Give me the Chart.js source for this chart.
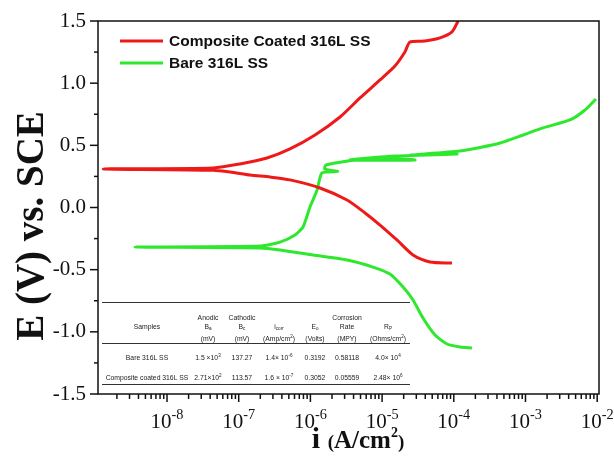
<!DOCTYPE html>
<html>
<head>
<meta charset="utf-8">
<script src="https://cdn.jsdelivr.net/npm/chart.js@4.4.0/dist/chart.umd.min.js"></script>
<style>
html, body { margin: 0; padding: 0; background: #fff; }
#wrap { width: 614px; height: 458px; }
</style>
</head>
<body>
<div id="wrap"><canvas id="tafel" width="614" height="458"></canvas></div>
<script>
// 极化曲线数据 (i: A/cm2, E: V vs SCE)
const coatedI = [9.44e-5, 4.66e-5, 2.70e-5, 1.61e-5, 9.35e-6, 5.78e-6, 3.24e-6, 1.36e-6, 5.19e-7, 2.74e-7, 1.44e-7, 7.57e-8, 4.39e-8,
    1.29e-9,
    4.39e-8, 1.04e-7, 2.48e-7, 5.19e-7, 1.16e-6, 2.59e-6, 4.92e-6, 9.35e-6, 1.51e-5, 2.08e-5, 2.45e-5, 3.96e-5, 6.43e-5, 9.44e-5, 1.15e-4];
const coatedE = [-0.447, -0.438, -0.382, -0.261, -0.141, -0.044, 0.060, 0.157, 0.222, 0.245, 0.261, 0.286, 0.300,
    0.310,
    0.318, 0.350, 0.398, 0.471, 0.583, 0.728, 0.881, 1.026, 1.138, 1.251, 1.331, 1.339, 1.364, 1.412, 1.500];

const bareI = [1.79e-4, 1.22e-4, 8.04e-5, 5.47e-5, 3.72e-5, 2.70e-5, 1.96e-5, 1.29e-5, 7.46e-6, 3.24e-6, 1.09e-6, 3.77e-7, 1.98e-7,
    3.58e-9,
    1.98e-7, 3.77e-7, 6.10e-7, 7.89e-7, 9.86e-7, 1.24e-6, 1.45e-6, 2.40e-6, 1.58e-6, 1.65e-6, 3.34e-6, 7.96e-6,
    2.88e-5, 3.56e-6, 1.51e-5, 1.11e-4, 2.45e-5, 1.22e-4, 4.41e-4, 1.75e-3, 4.18e-3, 6.76e-3, 9.62e-3];
const bareE = [-1.130, -1.122, -1.098, -1.026, -0.889, -0.744, -0.640, -0.535, -0.479, -0.422, -0.382, -0.342, -0.326,
    -0.318,
    -0.310, -0.278, -0.221, -0.157, 0.004, 0.141, 0.278, 0.290, 0.310, 0.342, 0.374, 0.398,
    0.382, 0.382, 0.414, 0.430, 0.422, 0.454, 0.519, 0.640, 0.704, 0.784, 0.873];

const seriesNames = ['Composite Coated 316L SS', 'Bare 316L SS'];
const yTicks = [-1.5, -1.0, -0.5, 0.0, 0.5, 1.0, 1.5];
const xTickExps = [-8, -7, -6, -5, -4, -3, -2];

// 表格内容 (^{} 上标, _{} 下标)
const tableHead = [
    ['', 'Samples', ''],
    ['Anodic', 'B_{a}', '(mV)'],
    ['Cathodic', 'B_{c}', '(mV)'],
    ['', 'i_{corr}', '(Amp/cm^{2})'],
    ['', 'E_{o}', '(Volts)'],
    ['Corrosion', 'Rate', '(MPY)'],
    ['', 'R_{P}', '(Ohms/cm^{2})']
];
const tableRows = [
    ['Bare 316L SS', '1.5 \u00d710^{3}', '137.27', '1.4\u00d7 10^{-6}', '0.3192', '0.58118', '4.0\u00d7 10^{4}'],
    ['Composite coated 316L SS', '2.71\u00d710^{2}', '113.57', '1.6 \u00d7 10^{-7}', '0.3052', '0.05559', '2.48\u00d7 10^{6}']
];

const RED = '#ee1a1a';
const GREEN = '#2ee82e';
const SERIF = '"Liberation Serif", "DejaVu Serif", serif';
const SANS = '"Liberation Sans", Arial, sans-serif';

// 带上下标的文字
function drawRich(ctx, str, x, y, size, family, weight, align) {
    const parts = [];
    const re = /\^\{([^}]*)\}|_\{([^}]*)\}|([^^_]+)/g;
    let m;
    while ((m = re.exec(str)) !== null) {
        if (m[1] !== undefined) parts.push({ t: m[1], k: 'sup' });
        else if (m[2] !== undefined) parts.push({ t: m[2], k: 'sub' });
        else parts.push({ t: m[3], k: '' });
    }
    const small = size * 0.68;
    let total = 0;
    parts.forEach(p => {
        ctx.font = `${weight} ${p.k ? small : size}px ${family}`;
        p.w = ctx.measureText(p.t).width;
        total += p.w;
    });
    let cx = align === 'center' ? x - total / 2 : (align === 'right' ? x - total : x);
    ctx.textAlign = 'left';
    ctx.textBaseline = 'alphabetic';
    parts.forEach(p => {
        ctx.font = `${weight} ${p.k ? small : size}px ${family}`;
        let dy = 0;
        if (p.k === 'sup') dy = -size * 0.42;
        if (p.k === 'sub') dy = size * 0.22;
        ctx.fillText(p.t, cx, y + dy);
        cx += p.w;
    });
}

const framePlugin = {
    id: 'frame',
    beforeDatasetsDraw(chart) {
        const ctx = chart.ctx;
        ctx.save();
        // 图例
        const legendColors = [RED, GREEN];
        seriesNames.forEach((name, i) => {
            const ly = 41 + i * 22;
            ctx.strokeStyle = legendColors[i];
            ctx.lineWidth = 3;
            ctx.beginPath();
            ctx.moveTo(120, ly);
            ctx.lineTo(163, ly);
            ctx.stroke();
            ctx.fillStyle = '#111';
            ctx.font = `bold 15.5px ${SANS}`;
            ctx.textAlign = 'left';
            ctx.textBaseline = 'middle';
            ctx.fillText(name, 169, ly + 1);
        });

        // 表格
        const colX = [147, 208, 242, 279, 315, 347, 388];
        ctx.strokeStyle = '#333';
        ctx.lineWidth = 1;
        [302.5, 343.5, 384.5].forEach(ly => {
            ctx.beginPath();
            ctx.moveTo(102, ly);
            ctx.lineTo(410, ly);
            ctx.stroke();
        });
        ctx.fillStyle = '#222';
        const headY = [320, 329, 341];
        tableHead.forEach((col, c) => {
            col.forEach((txt, r) => {
                if (txt) drawRich(ctx, txt, colX[c], headY[r], 6.8, SANS, 'normal', 'center');
            });
        });
        const rowY = [360, 380];
        tableRows.forEach((row, r) => {
            row.forEach((txt, c) => {
                drawRich(ctx, txt, colX[c], rowY[r], 6.8, SANS, 'normal', 'center');
            });
        });
        ctx.restore();
    },
    afterDraw(chart) {
        const ctx = chart.ctx;
        const area = chart.chartArea;
        const xs = chart.scales.x;
        const ys = chart.scales.y;
        ctx.save();
        ctx.strokeStyle = '#111';
        ctx.fillStyle = '#111';

        // 边框
        ctx.lineWidth = 1.5;
        ctx.strokeRect(area.left, area.top, area.right - area.left, area.bottom - area.top);

        // y 轴刻度
        ctx.lineWidth = 1.5;
        for (let v = -1.5; v <= 1.5001; v += 0.25) {
            const py = ys.getPixelForValue(v);
            const major = Math.abs(v * 2 - Math.round(v * 2)) < 1e-6;
            ctx.beginPath();
            ctx.moveTo(area.left, py);
            ctx.lineTo(area.left - (major ? 8 : 4), py);
            ctx.stroke();
        }
        ctx.font = `21px ${SERIF}`;
        ctx.textAlign = 'right';
        ctx.textBaseline = 'middle';
        yTicks.forEach(v => {
            ctx.fillText(v.toFixed(1), area.left - 12, ys.getPixelForValue(v));
        });

        // x 轴刻度 (对数)
        for (let e = -9; e <= -2; e++) {
            for (let k = 1; k <= 9; k++) {
                const v = k * Math.pow(10, e);
                if (v < xs.min || v > xs.max) continue;
                const px = xs.getPixelForValue(v);
                ctx.beginPath();
                ctx.moveTo(px, area.bottom);
                ctx.lineTo(px, area.bottom + (k === 1 ? 8 : 5));
                ctx.stroke();
            }
        }
        xTickExps.forEach(e => {
            const px = xs.getPixelForValue(Math.pow(10, e));
            drawRich(ctx, '10^{' + e + '}', px, area.bottom + 34, 21, SERIF, 'normal', 'center');
        });

        // 轴标题
        ctx.save();
        ctx.translate(33, 226);
        ctx.rotate(-Math.PI / 2);
        ctx.font = `bold 39px ${SERIF}`;
        ctx.textAlign = 'center';
        ctx.textBaseline = 'middle';
        ctx.fillText('E (V) vs. SCE', 0, 0);
        ctx.restore();

        const titleParts = [
            { t: 'i ', s: 30, dy: 0 },
            { t: '(', s: 19, dy: 0 },
            { t: 'A/cm', s: 25, dy: 0 },
            { t: '2', s: 14, dy: -11 },
            { t: ')', s: 19, dy: 0 }
        ];
        let tw = 0;
        titleParts.forEach(p => {
            ctx.font = `bold ${p.s}px ${SERIF}`;
            p.w = ctx.measureText(p.t).width;
            tw += p.w;
        });
        let tx = 358 - tw / 2;
        ctx.textAlign = 'left';
        ctx.textBaseline = 'alphabetic';
        titleParts.forEach(p => {
            ctx.font = `bold ${p.s}px ${SERIF}`;
            ctx.fillText(p.t, tx, 448 + p.dy);
            tx += p.w;
        });
        ctx.restore();
    }
};

function toPoints(xArr, yArr) {
    return xArr.map((v, i) => ({ x: v, y: yArr[i] }));
}

const tafelChart = new Chart(document.getElementById('tafel'), {
    type: 'scatter',
    data: {
        datasets: [
            {
                label: seriesNames[0],
                data: toPoints(coatedI, coatedE),
                showLine: true,
                borderColor: RED,
                borderWidth: 3,
                pointRadius: 0,
                tension: 0.25
            },
            {
                label: seriesNames[1],
                data: toPoints(bareI, bareE),
                showLine: true,
                borderColor: GREEN,
                borderWidth: 3,
                pointRadius: 0,
                tension: 0.2
            }
        ]
    },
    options: {
        responsive: false,
        animation: false,
        layout: { padding: { left: 98, right: 15, top: 21, bottom: 64 } },
        scales: {
            x: { type: 'logarithmic', min: 1.09e-9, max: 1.06e-2, display: false },
            y: { type: 'linear', min: -1.5, max: 1.5, display: false }
        },
        plugins: {
            legend: { display: false },
            tooltip: { enabled: false }
        }
    },
    plugins: [framePlugin]
});
</script>
</body>
</html>
